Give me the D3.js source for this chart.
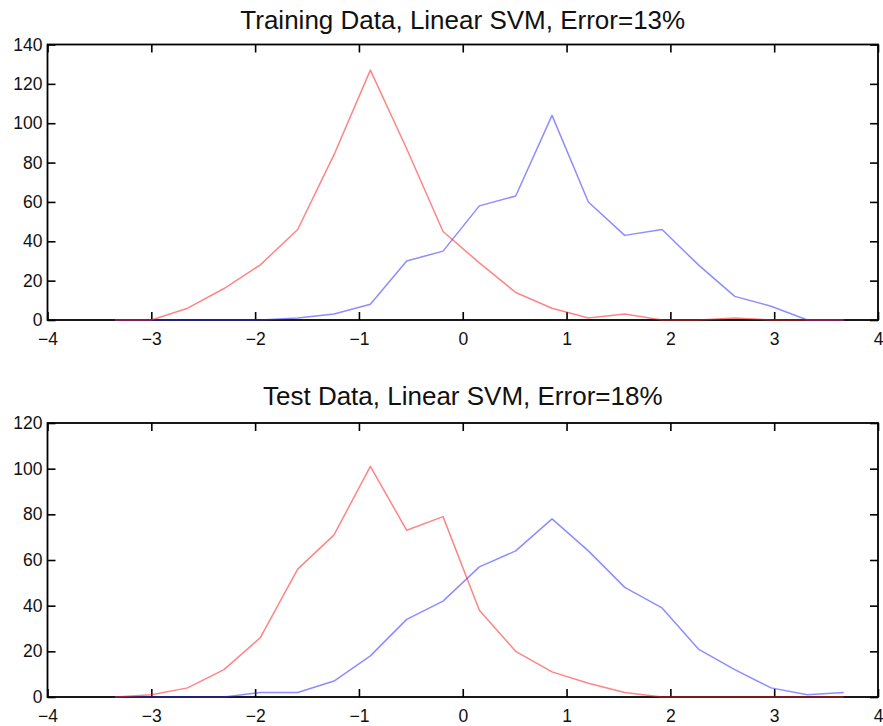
<!DOCTYPE html>
<html>
<head>
<meta charset="utf-8">
<script src="https://cdn.jsdelivr.net/npm/d3@7"></script>
<style>
  html, body { margin: 0; padding: 0; background: #fff; }
  svg { display: block; }
  text { font-family: "Liberation Sans", Arial, Helvetica, sans-serif; fill: #111; }
</style>
</head>
<body>
<svg id="chart" width="883" height="726"></svg>
<script>
// Histogram bin centres of the SVM decision value
const binCenters = [-3.35, -3.00, -2.65, -2.30, -1.95, -1.59, -1.24, -0.89, -0.54, -0.19,
                    0.16, 0.51, 0.86, 1.21, 1.56, 1.92, 2.27, 2.62, 2.97, 3.32, 3.67];

// Training set counts per bin
const trainRed  = [0, 0, 6, 16, 28, 46, 84, 127, 87, 45, 29, 14, 6, 1, 3, 0, 0, 1, 0, 0, 0];
const trainBlue = [0, 0, 0, 0, 0, 1, 3, 8, 30, 35, 58, 63, 104, 60, 43, 46, 28, 12, 7, 0, 0];

// Test set counts per bin
const testRed  = [0, 1, 4, 12, 26, 56, 71, 101, 73, 79, 38, 20, 11, 6, 2, 0, 0, 0, 0, 0, 0];
const testBlue = [0, 0, 0, 0, 2, 2, 7, 18, 34, 42, 57, 64, 78, 64, 48, 39, 21, 12, 4, 1, 2];

const xTicks = [-4, -3, -2, -1, 0, 1, 2, 3, 4];
const yTicksTrain = [0, 20, 40, 60, 80, 100, 120, 140];
const yTicksTest  = [0, 20, 40, 60, 80, 100, 120];

const titles = ["Training Data, Linear SVM, Error=13%", "Test Data, Linear SVM, Error=18%"];

const svg = d3.select("#chart");
const left = 47.5, right = 878;
const tick = 8;
const fmt = d => (d < 0 ? "\u2212" + Math.abs(d) : String(d));

const panels = [
  { title: titles[0], red: trainRed, blue: trainBlue, yMax: 140, yTicks: yTicksTrain, top: 44.5, bottom: 320, titleY: 29 },
  { title: titles[1], red: testRed,  blue: testBlue,  yMax: 120, yTicks: yTicksTest,  top: 423,  bottom: 697, titleY: 405 }
];

panels.forEach(p => {
  const x = d3.scaleLinear().domain([-4, 4]).range([left, right]);
  const y = d3.scaleLinear().domain([0, p.yMax]).range([p.bottom, p.top]);
  const g = svg.append("g");

  // axes with inward ticks on all four sides
  const styleAxis = sel => {
    sel.select(".domain").remove();
    sel.selectAll(".tick line").attr("stroke", "#000").attr("stroke-width", 1.6);
    sel.selectAll(".tick text").attr("font-size", 17.5).style("font-family", "Liberation Sans, Arial, sans-serif");
  };

  g.append("g").attr("transform", `translate(0,${p.bottom})`)
    .call(d3.axisBottom(x).tickValues(xTicks).tickFormat(fmt).tickSizeInner(-tick).tickSizeOuter(0).tickPadding(13))
    .call(styleAxis);
  g.append("g").attr("transform", `translate(0,${p.top})`)
    .call(d3.axisTop(x).tickValues(xTicks).tickFormat("").tickSizeInner(-tick).tickSizeOuter(0))
    .call(styleAxis);
  g.append("g").attr("transform", `translate(${left},0)`)
    .call(d3.axisLeft(y).tickValues(p.yTicks).tickFormat(d3.format("d")).tickSizeInner(-tick).tickSizeOuter(0).tickPadding(5))
    .call(styleAxis);
  g.append("g").attr("transform", `translate(${right},0)`)
    .call(d3.axisRight(y).tickValues(p.yTicks).tickFormat("").tickSizeInner(-tick).tickSizeOuter(0))
    .call(styleAxis);

  // frame
  g.append("rect")
    .attr("x", left).attr("y", p.top)
    .attr("width", right - left).attr("height", p.bottom - p.top)
    .attr("fill", "none").attr("stroke", "#000").attr("stroke-width", 1.8);

  const line = vals => d3.line()
    .x((d, i) => x(binCenters[i]))
    .y(d => y(d))(vals);

  g.append("path").attr("d", line(p.blue))
    .attr("fill", "none").attr("stroke", "#3030ff").attr("stroke-opacity", 0.55).attr("stroke-width", 1.5)
    .attr("stroke-linejoin", "round");
  g.append("path").attr("d", line(p.red))
    .attr("fill", "none").attr("stroke", "#ff2020").attr("stroke-opacity", 0.55).attr("stroke-width", 1.5)
    .attr("stroke-linejoin", "round");

  g.append("text")
    .attr("x", (left + right) / 2).attr("y", p.titleY)
    .attr("text-anchor", "middle").attr("font-size", 26)
    .text(p.title);
});
</script>
</body>
</html>
